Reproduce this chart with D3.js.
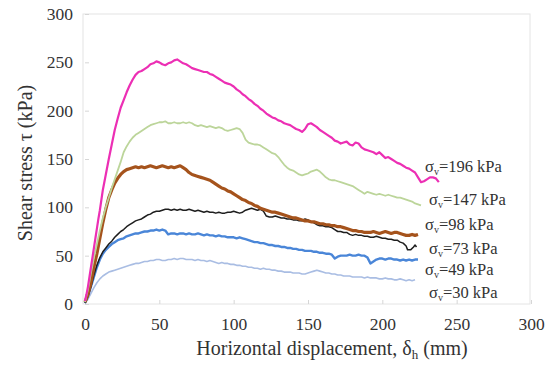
<!DOCTYPE html>
<html>
<head>
<meta charset="utf-8">
<script src="https://cdn.jsdelivr.net/npm/d3@7"></script>
<style>
  body { margin: 0; background: #fff; }
  text { font-family: "Liberation Serif", "Times New Roman", serif; fill: #333; }
</style>
</head>
<body>
<div id="chart"></div>
<script>
// displacement (mm), shear stress (kPa)
const s196 = [[0,3],[1,10],[2,18],[3,28],[4,38],[5,48],[6,58],[7,68],[8,78],[9,88],[10,97],[12,118],[14,134],[16,150],[18,165],[20,180],[22,192],[24,203],[26,211],[28,219],[30,226],[32,232],[34,237],[36,240],[38,241],[40,243],[42,245],[44,248],[46,249],[48,251],[50,250],[52,248],[54,247],[56,249],[58,250],[60,252],[62,253],[64,251],[66,249],[68,248],[70,246],[72,244],[74,243],[76,242],[78,241],[80,240],[82,240],[84,238],[86,237],[88,235],[90,233],[92,231],[94,229],[96,228],[98,227],[100,225],[102,222],[104,220],[106,217],[108,215],[110,212],[112,210],[114,207],[116,205],[118,202],[120,200],[122,197],[124,195],[126,193],[128,192],[130,190],[132,189],[134,187],[136,186],[138,185],[140,183],[142,181],[144,180],[146,178],[148,181],[150,186],[152,187],[154,185],[156,183],[158,180],[160,178],[162,176],[164,174],[166,172],[168,169],[170,168],[172,166],[174,167],[176,168],[178,165],[180,164],[182,167],[184,166],[186,162],[188,160],[190,159],[192,158],[194,157],[196,155],[198,157],[200,154],[202,151],[204,152],[206,150],[208,148],[210,146],[212,145],[214,143],[216,141],[218,140],[220,138],[222,136],[224,131],[226,126],[228,127],[230,129],[232,131],[234,131],[236,130],[238,126]];
const s147 = [[0,2],[2,15],[4,32],[6,48],[8,62],[10,76],[12,89],[14,100],[16,110],[18,120],[20,129],[22,138],[24,147],[26,157],[28,163],[30,168],[32,172],[34,175],[36,177],[38,179],[40,181],[42,183],[44,185],[46,186],[48,187],[50,188],[52,188],[54,189],[56,187],[58,187],[60,188],[62,187],[64,187],[66,188],[68,187],[70,188],[72,187],[74,185],[76,184],[78,185],[80,184],[82,183],[84,184],[86,183],[88,182],[90,183],[92,182],[94,180],[96,179],[98,180],[100,181],[102,182],[104,181],[106,177],[108,170],[110,167],[112,166],[114,165],[116,165],[118,164],[120,162],[122,160],[124,158],[126,156],[128,155],[130,152],[132,148],[134,144],[136,141],[138,139],[140,138],[142,136],[144,134],[146,133],[148,134],[150,135],[152,137],[154,138],[156,139],[158,137],[160,134],[162,131],[164,129],[166,128],[168,128],[170,127],[172,126],[174,125],[176,124],[178,123],[180,122],[182,120],[184,118],[186,116],[188,114],[190,116],[192,115],[194,114],[196,113],[198,114],[200,113],[202,112],[204,113],[206,112],[208,111],[210,110],[212,110],[214,109],[216,108],[218,107],[220,106],[222,104],[224,103],[226,102]];
const s98 = [[0,2],[2,10],[4,22],[6,38],[8,52],[10,68],[12,84],[14,98],[16,110],[18,118],[20,125],[22,130],[24,134],[26,137],[28,139],[30,140],[32,141],[34,142],[36,141],[38,142],[40,141],[42,142],[44,143],[46,142],[48,141],[50,142],[52,143],[54,142],[56,141],[58,142],[60,141],[62,142],[64,143],[66,141],[68,139],[70,136],[72,134],[74,133],[76,132],[78,131],[80,130],[82,129],[84,128],[86,126],[88,124],[90,122],[92,120],[94,119],[96,117],[98,116],[100,114],[102,112],[104,110],[106,108],[108,107],[110,105],[112,104],[114,102],[116,101],[118,99],[120,98],[122,97],[124,96],[126,95],[128,95],[130,94],[132,93],[134,92],[136,91],[138,90],[140,89],[142,89],[144,88],[146,87],[148,86],[150,86],[152,85],[154,85],[156,84],[158,83],[160,83],[162,82],[164,82],[166,81],[168,81],[170,80],[172,80],[174,79],[176,78],[178,77],[180,76],[182,76],[184,75],[186,75],[188,74],[190,74],[192,74],[194,75],[196,74],[198,73],[200,74],[202,75],[204,74],[206,73],[208,74],[210,74],[212,73],[214,72],[216,71],[218,71],[220,72],[222,71],[224,72]];
const s73 = [[0,1],[2,8],[4,18],[6,30],[8,40],[10,48],[12,54],[14,58],[16,62],[18,65],[20,69],[22,72],[24,75],[26,77],[28,80],[30,82],[32,84],[34,86],[36,87],[38,88],[40,90],[42,92],[44,93],[46,95],[48,96],[50,96],[52,97],[54,98],[56,98],[58,97],[60,98],[62,97],[64,98],[66,97],[68,97],[70,98],[72,97],[74,96],[76,97],[78,96],[80,95],[82,96],[84,95],[86,95],[88,94],[90,95],[92,94],[94,94],[96,95],[98,95],[100,96],[102,95],[104,94],[106,95],[108,97],[110,98],[112,99],[114,98],[116,97],[118,98],[120,96],[122,91],[124,90],[126,90],[128,91],[130,90],[132,89],[134,89],[136,88],[138,88],[140,87],[142,87],[144,86],[146,86],[148,88],[150,87],[152,85],[154,84],[156,82],[158,81],[160,81],[162,80],[164,80],[166,79],[168,77],[170,75],[172,75],[174,74],[176,74],[178,72],[180,71],[182,72],[184,71],[186,71],[188,70],[190,70],[192,69],[194,69],[196,70],[198,69],[200,68],[202,68],[204,67],[206,67],[208,66],[210,66],[212,64],[214,63],[216,60],[217,56],[219,56],[221,59],[222,61],[223,59]];
const s49 = [[0,1],[2,8],[4,18],[6,28],[8,38],[10,46],[12,52],[14,56],[16,59],[18,62],[20,64],[22,66],[24,67],[26,68],[28,70],[30,71],[32,72],[34,73],[36,73],[38,74],[40,75],[42,75],[44,76],[46,76],[48,77],[50,76],[52,77],[54,76],[56,72],[58,73],[60,73],[62,72],[64,73],[66,73],[68,72],[70,73],[72,72],[74,72],[76,73],[78,72],[80,71],[82,72],[84,71],[86,71],[88,70],[90,71],[92,70],[94,70],[96,69],[98,69],[100,69],[102,68],[104,69],[106,68],[108,67],[110,66],[112,65],[114,64],[116,64],[118,63],[120,63],[122,62],[124,61],[126,61],[128,60],[130,60],[132,59],[134,59],[136,58],[138,58],[140,57],[142,57],[144,56],[146,56],[148,55],[150,55],[152,55],[154,54],[156,54],[158,53],[160,53],[162,52],[164,52],[166,51],[168,47],[170,49],[172,50],[174,50],[176,50],[178,51],[180,50],[182,50],[184,51],[186,50],[188,50],[190,48],[192,42],[194,44],[196,46],[198,47],[200,47],[202,46],[204,47],[206,47],[208,46],[210,46],[212,45],[214,46],[216,45],[218,46],[220,45],[222,46],[224,46]];
const s30 = [[0,1],[2,5],[4,11],[6,17],[8,22],[10,26],[12,29],[14,31],[16,33],[18,34],[20,35],[22,36],[24,37],[26,38],[28,39],[30,40],[32,41],[34,42],[36,42],[38,43],[40,44],[42,44],[44,45],[46,45],[48,46],[50,46],[52,45],[54,45],[56,46],[58,46],[60,47],[62,46],[64,47],[66,47],[68,46],[70,46],[72,46],[74,45],[76,46],[78,45],[80,45],[82,44],[84,45],[86,44],[88,43],[90,42],[92,43],[94,42],[96,42],[98,41],[100,41],[102,40],[104,40],[106,39],[108,39],[110,38],[112,38],[114,37],[116,37],[118,36],[120,37],[122,36],[124,36],[126,35],[128,35],[130,34],[132,34],[134,33],[136,33],[138,33],[140,32],[142,32],[144,32],[146,31],[148,31],[150,32],[152,33],[154,34],[156,35],[158,34],[160,33],[162,32],[164,32],[166,31],[168,31],[170,30],[172,30],[174,29],[176,29],[178,29],[180,28],[182,28],[184,28],[186,28],[188,27],[190,28],[192,27],[194,27],[196,27],[198,26],[200,26],[202,27],[204,26],[206,26],[208,25],[210,25],[212,26],[214,25],[216,24],[218,25],[220,24],[222,25]];

const seriesNames = ["196", "147", "98", "73", "49", "30"];
const xTicks = [0, 50, 100, 150, 200, 250, 300];
const yTicks = [0, 50, 100, 150, 200, 250, 300];

const width = 555, height = 366;
const margin = {left: 85, right: 24, top: 14, bottom: 62};

const svg = d3.select("#chart").append("svg")
    .attr("width", width)
    .attr("height", height);

const x = d3.scaleLinear().domain([0, 300]).range([margin.left, width - margin.right]);
const y = d3.scaleLinear().domain([0, 300]).range([height - margin.bottom, margin.top]);

//Frame around plot area
svg.append("rect")
    .attr("x", x(0) - 2).attr("y", y(300))
    .attr("width", x(300) - x(0) + 1).attr("height", y(0) - y(300))
    .attr("fill", "none").attr("stroke", "#e4e4e4");

const xAxis = svg.append("g")
    .attr("transform", `translate(0,${y(0)})`)
    .call(d3.axisBottom(x).tickValues(xTicks).tickSize(-4).tickPadding(14));
const yAxis = svg.append("g")
    .attr("transform", `translate(${x(0)},0)`)
    .call(d3.axisLeft(y).tickValues(yTicks).tickSize(-4).tickPadding(12));

[xAxis, yAxis].forEach(function (g) {
    g.attr("font-family", "'Liberation Serif', serif");
    g.select(".domain").remove();
    g.selectAll("line").attr("stroke", "#d6d6d6");
    g.selectAll("text").style("font-size", "17.5px").attr("fill", "#3a3a3a")
        .style("font-family", "'Liberation Serif', serif");
});

const line = d3.line()
    .x(function (d) { return x(d[0]); })
    .y(function (d) { return y(d[1]); });

const curves = [
    {data: s30, color: "#a9bde3", w: 1.6},
    {data: s49, color: "#4a86d8", w: 2.4},
    {data: s73, color: "#1e1e1e", w: 1.5},
    {data: s98, color: "#a5531c", w: 3.2},
    {data: s147, color: "#bcd59a", w: 1.8},
    {data: s196, color: "#ec2fb4", w: 2.2}
];

svg.selectAll("path.curve")
    .data(curves)
    .enter()
    .append("path")
    .attr("class", "curve")
    .attr("d", function (d) { return line(d.data); })
    .attr("fill", "none")
    .attr("stroke", function (d) { return d.color; })
    .attr("stroke-width", function (d) { return d.w; })
    .attr("stroke-linejoin", "round");

//Labels next to curve ends
const labelPos = [[425, 172], [429, 205], [425, 230], [429, 254], [425, 275], [429, 298]];
seriesNames.forEach(function (name, i) {
    const t = svg.append("text")
        .attr("x", labelPos[i][0])
        .attr("y", labelPos[i][1])
        .style("font-size", "16.5px")
        .attr("fill", "#3a3a3a");
    t.append("tspan").text("σ");
    t.append("tspan").attr("dy", 3).style("font-size", "10px").text("v");
    t.append("tspan").attr("dy", -3).text("=" + name + " kPa");
});

//Axis titles
const xt = svg.append("text")
    .attr("x", 332).attr("y", 355)
    .attr("text-anchor", "middle")
    .style("font-size", "20px")
    .attr("fill", "#3a3a3a");
xt.append("tspan").text("Horizontal displacement, δ");
xt.append("tspan").attr("dy", 4).style("font-size", "13px").text("h");
xt.append("tspan").attr("dy", -4).text(" (mm)");

svg.append("text")
    .attr("transform", "translate(32,163) rotate(-90)")
    .attr("text-anchor", "middle")
    .style("font-size", "20px")
    .attr("fill", "#3a3a3a")
    .text("Shear stress τ  (kPa)");
</script>
</body>
</html>
